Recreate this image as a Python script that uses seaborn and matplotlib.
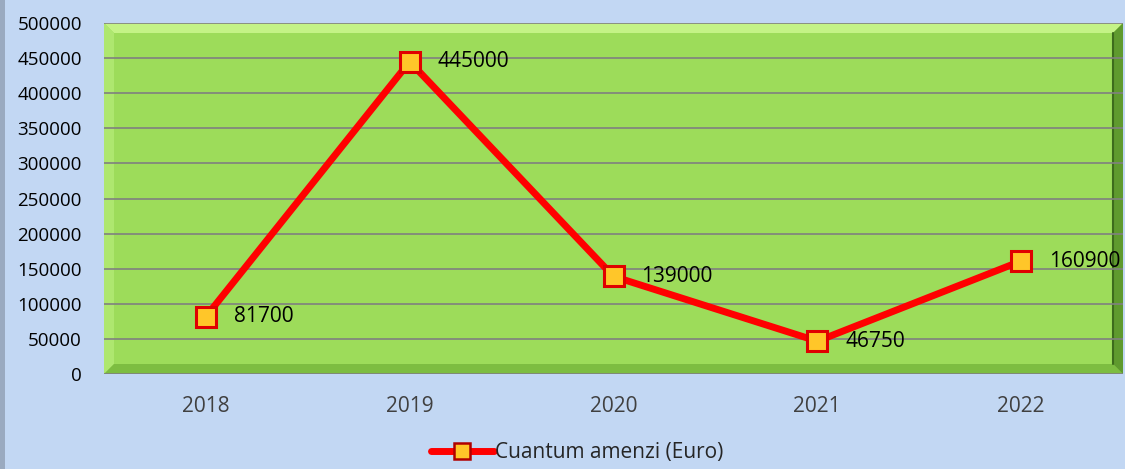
import matplotlib
matplotlib.use('Agg')
import matplotlib.pyplot as plt
import seaborn as sns
import pandas as pd
from matplotlib.patches import Polygon, Rectangle
from matplotlib.lines import Line2D

# data
years = ['2018', '2019', '2020', '2021', '2022']
amenzi = [81700, 445000, 139000, 46750, 160900]
series_name = 'Cuantum amenzi (Euro)'
y_ticks = list(range(0, 500001, 50000))

df = pd.DataFrame({'an': years, 'suma': amenzi})

sns.set_style('white')
plt.rcParams['font.family'] = ['Open Sans', 'DejaVu Sans']

bg = '#c2d7f3'
fig = plt.figure(figsize=(11.25, 4.69), dpi=100, facecolor=bg)
ax = fig.add_axes([104 / 1125, 1 - 374 / 469, 1019 / 1125, 351 / 469])
ax.set_facecolor('#9ddc5a')

# bevelled frame of the plot area
W, H = 1019.0, 351.0
dx, dy = 10 / W, 10 / H
bevel = [
    ([(0, 1), (1, 1), (1 - dx, 1 - dy), (dx, 1 - dy)], '#c4f386'),
    ([(0, 0), (0, 1), (dx, 1 - dy), (dx, dy)], '#aee76f'),
    ([(0, 0), (1, 0), (1 - dx, dy), (dx, dy)], '#7dbd41'),
    ([(1, 0), (1, 1), (1 - dx, 1 - dy), (1 - dx, dy)], '#5f9a2e'),
]
for pts, col in bevel:
    ax.add_patch(Polygon(pts, closed=True, transform=ax.transAxes,
                         facecolor=col, edgecolor='none', zorder=0.2))
ax.plot([1 - dx, 1 - dx], [dy, 1 - dy], transform=ax.transAxes,
        color='#3d6b1c', lw=1.5, zorder=0.3)

sns.lineplot(data=df, x='an', y='suma', ax=ax, color='#ff0000', lw=5,
             marker='s', markersize=14, markerfacecolor='#ffc629',
             markeredgecolor='#e00000', markeredgewidth=2.2, zorder=3,
             label=series_name, legend=False)

for i, v in enumerate(amenzi):
    ax.annotate(str(v), (i, v), xytext=(20, 0), textcoords='offset points',
                va='center', ha='left', fontsize=15, color='black', zorder=4)

ax.set_xlim(-0.5, len(years) - 0.5)
ax.set_ylim(0, 500000)
ax.set_yticks(y_ticks)
ax.set_yticklabels([str(t) for t in y_ticks])
ax.set_axisbelow(True)
ax.grid(axis='y', color='#808080', lw=1.2)
ax.grid(axis='x', visible=False)
ax.tick_params(axis='y', length=0, pad=16, labelsize=13.5, labelcolor='black')
ax.tick_params(axis='x', length=0, pad=16, labelsize=15, labelcolor='#404040')
ax.set_xlabel('')
ax.set_ylabel('')
for s in ax.spines.values():
    s.set_visible(False)

# grey strip on the left edge
fig.patches.append(Rectangle((0, 0), 5 / 1125, 1, transform=fig.transFigure,
                             facecolor='#9aaac0', edgecolor='none'))

handle = Line2D([], [], color='#ff0000', lw=5, marker='s', markersize=11,
                markerfacecolor='#ffc629', markeredgecolor='#b00000',
                markeredgewidth=1.8)
fig.legend([handle], [series_name], loc='lower center',
           bbox_to_anchor=(0.513, -0.028), frameon=False, fontsize=15,
           handlelength=3.0, handletextpad=0.05)

fig.savefig('out.png', dpi=100, facecolor=bg)
